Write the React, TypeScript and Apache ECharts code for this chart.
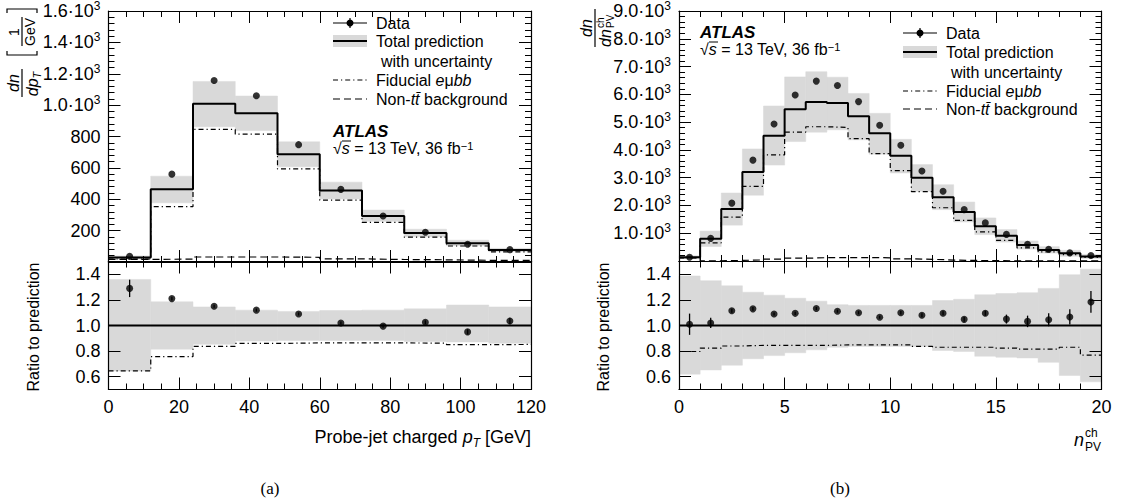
import React, { useEffect, useRef } from "react";
import * as echarts from "echarts";

const FONT = '"Liberation Sans", Arial, Helvetica, sans-serif';
const SERIF = '"Liberation Serif", "Times New Roman", serif';
const BAND = "#d9d9d9";

// ---------- (a) probe-jet charged pT ----------
const ptEdges = [0, 12, 24, 36, 48, 60, 72, 84, 96, 108, 120];
const ptTotal = [29, 463, 1008, 948, 687, 455, 293, 185, 119, 76];
const ptBandHi = [39, 547, 1151, 1058, 766, 509, 331, 209, 139, 87];
const ptBandLo = [19, 377, 862, 838, 607, 402, 259, 161, 104, 66];
const ptData = [37, 560, 1157, 1060, 748, 463, 293, 190, 113, 79];
const ptFid = [19, 353, 845, 815, 593, 394, 253, 158, 102, 65];
const ptBkg = [17, 18, 32, 32, 30, 20, 16, 14, 11, 10];
const ptRatio = [1.29, 1.21, 1.15, 1.12, 1.09, 1.02, 0.995, 1.025, 0.95, 1.035];
const ptRatioErr = [0.068, 0.015, 0.012, 0.012, 0.012, 0.012, 0.012, 0.015, 0.02, 0.025];
const ptRatioHi = [1.36, 1.185, 1.145, 1.12, 1.11, 1.117, 1.12, 1.13, 1.16, 1.145];
const ptRatioLo = [0.645, 0.815, 0.853, 0.878, 0.883, 0.883, 0.883, 0.875, 0.872, 0.862];
const ptFidRatio = [0.645, 0.757, 0.837, 0.86, 0.864, 0.865, 0.864, 0.862, 0.85, 0.852];
const ptTopTicks = { min: 0, max: 1600, interval: 200 };

// ---------- (b) n_PV^ch ----------
const nEdges = [0, 1, 2, 3, 4, 5, 6, 7, 8, 9, 10, 11, 12, 13, 14, 15, 16, 17, 18, 19, 20];
const nTotal = [135, 798, 1869, 3202, 4512, 5464, 5726, 5690, 5214, 4595, 3786, 3000, 2298, 1762, 1250, 905, 575, 400, 275, 165];
const nData = [137, 815, 2083, 3631, 4929, 5976, 6476, 6321, 5738, 4890, 4167, 3240, 2512, 1850, 1372, 958, 600, 423, 292, 195];
const nBandHi = [187, 1077, 2448, 4035, 5581, 6628, 6814, 6617, 6033, 5316, 4380, 3471, 2746, 2123, 1550, 1131, 722, 516, 384, 238];
const nBandLo = [84, 521, 1290, 2369, 3452, 4300, 4638, 4723, 4364, 3846, 3169, 2511, 1850, 1404, 950, 681, 430, 285, 168, 92];
const nFid = [108, 655, 1583, 2690, 3821, 4643, 4833, 4810, 4405, 3869, 3250, 2500, 1917, 1464, 1048, 746, 469, 326, 228, 127];
const nBkg = [120, 8, 20, 40, 70, 100, 120, 125, 125, 115, 80, 60, 35, 20, 12, 8, 5, 3, 2, 1];
const nRatio = [1.01, 1.02, 1.115, 1.13, 1.09, 1.095, 1.133, 1.112, 1.1, 1.064, 1.1, 1.08, 1.096, 1.048, 1.096, 1.05, 1.032, 1.045, 1.067, 1.184];
const nRatioErr = [0.083, 0.04, 0.015, 0.015, 0.012, 0.012, 0.012, 0.012, 0.012, 0.012, 0.014, 0.015, 0.016, 0.018, 0.02, 0.035, 0.045, 0.05, 0.06, 0.085];
const nRatioHi = [1.387, 1.35, 1.31, 1.26, 1.237, 1.213, 1.19, 1.163, 1.157, 1.157, 1.157, 1.157, 1.195, 1.205, 1.24, 1.25, 1.256, 1.29, 1.397, 1.44];
const nRatioLo = [0.62, 0.653, 0.69, 0.74, 0.765, 0.787, 0.81, 0.83, 0.837, 0.837, 0.837, 0.837, 0.805, 0.797, 0.76, 0.752, 0.747, 0.712, 0.61, 0.56];
const nFidRatio = [0.797, 0.824, 0.84, 0.845, 0.845, 0.845, 0.845, 0.848, 0.848, 0.848, 0.848, 0.837, 0.83, 0.83, 0.83, 0.824, 0.816, 0.816, 0.83, 0.768];
const nTopTicks = { min: 0, max: 9000, interval: 1000 };

const ratioTicks = [0.6, 0.8, 1.0, 1.2, 1.4];
const ratioUnity = 1.0;

function stepPts(edges: number[], vals: number[]) {
  const pts: number[][] = [];
  vals.forEach((v, i) => {
    pts.push([edges[i], v], [edges[i + 1], v]);
  });
  return pts;
}
function mids(edges: number[]) {
  return edges.slice(0, -1).map((e, i) => (e + edges[i + 1]) / 2);
}

const expRich = {
  a: { fontSize: 18, fontFamily: FONT, color: "#000", lineHeight: 22 },
  s: { fontSize: 12, fontFamily: FONT, color: "#000", lineHeight: 13, verticalAlign: "top" },
};
const expFmt = (v: number) => {
  if (v === 0) return "";
  if (v >= 1000) return `{a|${(v / 1000).toFixed(1)}·10}{s|3}`;
  return `{a|${v}}`;
};

function axis(o: any) {
  const ax: any = {
    type: "value",
    gridIndex: o.grid,
    min: o.min,
    max: o.max,
    position: o.position,
    z: 10,
    axisLine: { show: true, onZero: false, lineStyle: { color: "#000", width: 1.2 } },
    axisTick: { show: true, inside: true, length: 12, lineStyle: { color: "#000", width: 1 } },
    minorTick: {
      show: !!o.minor,
      splitNumber: o.minor || 5,
      length: 6,
      lineStyle: { color: "#000", width: 1 },
    },
    splitLine: { show: false },
    minorSplitLine: { show: false },
    axisLabel: o.labels
      ? {
          show: true,
          color: "#000",
          fontFamily: FONT,
          fontSize: 18,
          margin: 8,
          formatter: o.fmt,
          rich: o.rich,
        }
      : { show: false },
  };
  if (o.interval) ax.interval = o.interval;
  if (o.custom) {
    ax.axisTick.customValues = o.custom;
    if (o.labels) ax.axisLabel.customValues = o.custom;
  }
  return ax;
}

function bandSeries(xi: number, yi: number, edges: number[], lo: number[], hi: number[]) {
  return {
    type: "custom",
    xAxisIndex: xi,
    yAxisIndex: yi,
    silent: true,
    z: 1,
    encode: { x: [0, 1], y: [2, 3] },
    data: lo.map((l, i) => [edges[i], edges[i + 1], l, hi[i]]),
    renderItem: (_p: any, api: any) => {
      const a = api.coord([api.value(0), api.value(3)]);
      const b = api.coord([api.value(1), api.value(2)]);
      return {
        type: "rect",
        shape: { x: a[0], y: a[1], width: b[0] - a[0], height: b[1] - a[1] },
        style: { fill: BAND, stroke: BAND, lineWidth: 0.5 },
      };
    },
  };
}
function lineSeries(xi: number, yi: number, data: number[][], width: number, type: any, z: number) {
  return {
    type: "line",
    xAxisIndex: xi,
    yAxisIndex: yi,
    data,
    showSymbol: false,
    symbol: "none",
    silent: true,
    z,
    lineStyle: { color: "#000", width, type, cap: "butt" },
  };
}
function errSeries(xi: number, yi: number, x: number[], v: number[], e: number[]) {
  return {
    type: "custom",
    xAxisIndex: xi,
    yAxisIndex: yi,
    silent: true,
    z: 5,
    encode: { x: 0, y: [1, 2] },
    data: x.map((c, i) => [c, v[i] - e[i], v[i] + e[i]]),
    renderItem: (_p: any, api: any) => {
      const a = api.coord([api.value(0), api.value(1)]);
      const b = api.coord([api.value(0), api.value(2)]);
      return {
        type: "line",
        shape: { x1: a[0], y1: a[1], x2: b[0], y2: b[1] },
        style: { stroke: "#000", lineWidth: 1.3 },
      };
    },
  };
}
function scatter(xi: number, yi: number, x: number[], v: number[]) {
  return {
    type: "scatter",
    xAxisIndex: xi,
    yAxisIndex: yi,
    silent: true,
    z: 6,
    symbol: "circle",
    symbolSize: 7,
    itemStyle: { color: "#000" },
    data: x.map((c, i) => [c, v[i]]),
  };
}

const DASHDOT = [5, 3, 1.2, 3];
const DASH = [7, 4];

function panelSeries(
  xt: number, yt: number, xr: number, yr: number, edges: number[],
  total: number[], hi: number[], lo: number[], data: number[], fid: number[], bkg: number[],
  ratio: number[], ratioErr: number[], rHi: number[], rLo: number[], fidRatio: number[]
) {
  const ctr = mids(edges);
  return [
    bandSeries(xt, yt, edges, lo, hi),
    lineSeries(xt, yt, stepPts(edges, bkg), 1.2, DASH, 3),
    lineSeries(xt, yt, stepPts(edges, fid), 1.2, DASHDOT, 3),
    lineSeries(xt, yt, stepPts(edges, total), 2, "solid", 4),
    scatter(xt, yt, ctr, data),
    bandSeries(xr, yr, edges, rLo, rHi),
    lineSeries(xr, yr, stepPts(edges, fidRatio), 1.2, DASHDOT, 3),
    lineSeries(xr, yr, [[edges[0], ratioUnity], [edges[edges.length - 1], ratioUnity]], 1.8, "solid", 4),
    errSeries(xr, yr, ctr, ratio, ratioErr),
    scatter(xr, yr, ctr, ratio),
  ];
}

function txt(x: number, y: number, text: string, extra: any = {}) {
  return {
    type: "text",
    x,
    y,
    silent: true,
    z: 20,
    style: {
      text,
      font: `16px ${FONT}`,
      fill: "#000",
      textAlign: "left",
      textVerticalAlign: "middle",
      ...extra,
    },
  };
}
const r16 = { fontSize: 16, fontFamily: FONT, fill: "#000" };
const i16 = { fontSize: 16, fontFamily: FONT, fontStyle: "italic", fill: "#000" };

function legend(mx0: number, mx1: number, tx: number, ys: number[], indent: number) {
  const [y0, y1, y2, y3, y4] = ys;
  const mc = (mx0 + mx1) / 2;
  const ln = (y: number, w: number, dash?: number[]) => ({
    type: "line",
    silent: true,
    z: 20,
    shape: { x1: mx0, y1: y, x2: mx1, y2: y },
    style: { stroke: "#000", lineWidth: w, lineDash: dash },
  });
  return [
    ln(y0, 1.2),
    { type: "line", silent: true, z: 20, shape: { x1: mc, y1: y0 - 5, x2: mc, y2: y0 + 5 }, style: { stroke: "#000", lineWidth: 1.2 } },
    { type: "circle", silent: true, z: 21, shape: { cx: mc, cy: y0, r: 3.5 }, style: { fill: "#000" } },
    txt(tx, y0, "Data"),
    { type: "rect", silent: true, z: 19, shape: { x: mx0, y: y1 - 6, width: mx1 - mx0, height: 12 }, style: { fill: BAND } },
    ln(y1, 2),
    txt(tx, y1, "Total prediction"),
    txt(tx + indent, y2, "with uncertainty"),
    ln(y3, 1.2, DASHDOT),
    txt(tx, y3, "{r|Fiducial }{i|e}{r|μ}{i|bb}", { rich: { r: r16, i: i16 } }),
    ln(y4, 1.2, DASH),
    txt(tx, y4, "{r|Non-}{i|tt\u0304}{r| background}", { rich: { r: r16, i: i16 } }),
  ];
}

function atlas(x: number, y: number) {
  return [
    txt(x, y, "ATLAS", { font: `italic bold 17px ${FONT}` }),
    txt(x, y + 17, "{r|√}{i|s}{r| = 13 TeV, 36 fb}{u|−1}", {
      rich: {
        r: r16,
        i: i16,
        u: { fontSize: 11, fontFamily: FONT, fill: "#000", verticalAlign: "top", lineHeight: 12 },
      },
    }),
    {
      type: "line",
      silent: true,
      z: 20,
      shape: { x1: x + 9, y1: y + 10, x2: x + 18, y2: y + 10 },
      style: { stroke: "#000", lineWidth: 1 },
    },
  ];
}

function bracket(u: number, dir: number) {
  return {
    type: "polyline",
    silent: true,
    shape: { points: [[u + dir * 4, -15], [u, -15], [u, 15], [u + dir * 4, 15]] },
    style: { stroke: "#000", lineWidth: 1.2, fill: null },
  };
}
function ctext(x: number, y: number, text: string, font: string, extra: any = {}) {
  return {
    type: "text",
    x,
    y,
    silent: true,
    style: { text, font, fill: "#000", textAlign: "center", textVerticalAlign: "middle", ...extra },
  };
}

function buildOption() {
  const grids = [
    { left: 108.5, top: 9, width: 422.5, height: 253 },
    { left: 108.5, top: 261.5, width: 422.5, height: 128 },
    { left: 679, top: 9, width: 422.5, height: 252 },
    { left: 679, top: 261.5, width: 422.5, height: 128 },
  ];
  const xAxis = [
    axis({ grid: 0, min: 0, max: 120, interval: 20, minor: 4, position: "bottom" }),
    axis({ grid: 0, min: 0, max: 120, interval: 20, minor: 4, position: "top" }),
    axis({ grid: 1, min: 0, max: 120, interval: 20, minor: 4, position: "bottom", labels: true }),
    axis({ grid: 1, min: 0, max: 120, interval: 20, minor: 4, position: "top" }),
    axis({ grid: 2, min: 0, max: 20, interval: 5, minor: 5, position: "bottom" }),
    axis({ grid: 2, min: 0, max: 20, interval: 5, minor: 5, position: "top" }),
    axis({ grid: 3, min: 0, max: 20, interval: 5, minor: 5, position: "bottom", labels: true }),
    axis({ grid: 3, min: 0, max: 20, interval: 5, minor: 5, position: "top" }),
  ];
  const rfmt = (v: number) => v.toFixed(1);
  const yAxis = [
    axis({ grid: 0, ...ptTopTicks, minor: 5, position: "left", labels: true, fmt: expFmt, rich: expRich }),
    axis({ grid: 0, ...ptTopTicks, minor: 5, position: "right" }),
    axis({ grid: 1, min: 0.5, max: 1.5, custom: ratioTicks, position: "left", labels: true, fmt: rfmt }),
    axis({ grid: 1, min: 0.5, max: 1.5, custom: ratioTicks, position: "right" }),
    axis({ grid: 2, ...nTopTicks, minor: 5, position: "left", labels: true, fmt: expFmt, rich: expRich }),
    axis({ grid: 2, ...nTopTicks, minor: 5, position: "right" }),
    axis({ grid: 3, min: 0.5, max: 1.5, custom: ratioTicks, position: "left", labels: true, fmt: rfmt }),
    axis({ grid: 3, min: 0.5, max: 1.5, custom: ratioTicks, position: "right" }),
  ];
  const series = [
    ...panelSeries(0, 0, 2, 2, ptEdges, ptTotal, ptBandHi, ptBandLo, ptData, ptFid, ptBkg,
      ptRatio, ptRatioErr, ptRatioHi, ptRatioLo, ptFidRatio),
    ...panelSeries(4, 4, 6, 6, nEdges, nTotal, nBandHi, nBandLo, nData, nFid, nBkg,
      nRatio, nRatioErr, nRatioHi, nRatioLo, nFidRatio),
  ];

  const it16 = `italic 16px ${FONT}`;
  const graphic: any[] = [
    ...legend(333, 367, 376, [23, 41, 61, 80, 99], 5),
    ...legend(903, 937, 946, [33, 52, 72, 91, 109], 5),
    ...atlas(333, 131),
    ...atlas(700, 32),
    // left y title: dn/dpT [1/GeV]
    {
      type: "group",
      x: 22,
      y: 97,
      rotation: Math.PI / 2,
      silent: true,
      children: [
        ctext(14, -9, "dn", it16),
        { type: "line", shape: { x1: 0, y1: 0, x2: 28, y2: 0 }, style: { stroke: "#000", lineWidth: 1.2 } },
        ctext(13, 10, "{i|dp}{s|T}", it16, {
          rich: {
            i: { fontSize: 16, fontFamily: FONT, fontStyle: "italic", fill: "#000", lineHeight: 20 },
            s: { fontSize: 11, fontFamily: FONT, fontStyle: "italic", fill: "#000", lineHeight: 12, verticalAlign: "bottom" },
          },
        }),
        bracket(42, 1),
        ctext(65, -8, "1", `14px ${FONT}`),
        { type: "line", shape: { x1: 51, y1: 0, x2: 80, y2: 0 }, style: { stroke: "#000", lineWidth: 1.2 } },
        ctext(65, 8, "GeV", `14px ${FONT}`),
        bracket(88, -1),
      ],
    },
    // right y title: dn/dn_PV^ch
    {
      type: "group",
      x: 595,
      y: 47,
      rotation: Math.PI / 2,
      silent: true,
      children: [
        ctext(19, -9, "dn", it16),
        { type: "line", shape: { x1: 0, y1: 0, x2: 38, y2: 0 }, style: { stroke: "#000", lineWidth: 1.2 } },
        ctext(9, 10, "dn", it16),
        ctext(19, 5, "ch", `10px ${FONT}`, { textAlign: "left" }),
        ctext(19, 15, "PV", `10px ${FONT}`, { textAlign: "left" }),
      ],
    },
    // ratio y titles
    { type: "text", x: 33, y: 327, rotation: Math.PI / 2, silent: true,
      style: { text: "Ratio to prediction", font: `16px ${FONT}`, fill: "#000", textAlign: "center", textVerticalAlign: "middle" } },
    { type: "text", x: 603, y: 327, rotation: Math.PI / 2, silent: true,
      style: { text: "Ratio to prediction", font: `16px ${FONT}`, fill: "#000", textAlign: "center", textVerticalAlign: "middle" } },
    // x titles
    {
      type: "text",
      x: 531,
      y: 437,
      silent: true,
      style: {
        text: "{r|Probe-jet charged }{i|p}{s|T}{r| [GeV]}",
        textAlign: "right",
        textVerticalAlign: "middle",
        fill: "#000",
        rich: {
          r: { fontSize: 18, fontFamily: FONT, fill: "#000", lineHeight: 24 },
          i: { fontSize: 18, fontFamily: FONT, fontStyle: "italic", fill: "#000", lineHeight: 24 },
          s: { fontSize: 12, fontFamily: FONT, fontStyle: "italic", fill: "#000", lineHeight: 14, verticalAlign: "bottom" },
        },
      },
    },
    ctext(1084, 440, "n", `italic 18px ${FONT}`, { textAlign: "right" }),
    ctext(1085, 433, "ch", `12px ${FONT}`, { textAlign: "left" }),
    ctext(1085, 447, "PV", `12px ${FONT}`, { textAlign: "left" }),
    // sub-figure labels
    ctext(270, 488, "(a)", `17px ${SERIF}`),
    ctext(840, 488, "(b)", `17px ${SERIF}`),
  ];

  return {
    animation: false,
    backgroundColor: "#fff",
    grid: grids,
    xAxis,
    yAxis,
    series,
    graphic: { elements: graphic },
  };
}

export default function App() {
  const ref = useRef<HTMLDivElement>(null);
  useEffect(() => {
    const chart = echarts.init(ref.current!, null, { renderer: "svg" });
    chart.setOption(buildOption() as any);
    return () => chart.dispose();
  }, []);
  return (
    <div
      ref={ref}
      style={{ position: "fixed", left: 0, top: 0, width: 1122, height: 503, background: "#fff" }}
    />
  );
}
